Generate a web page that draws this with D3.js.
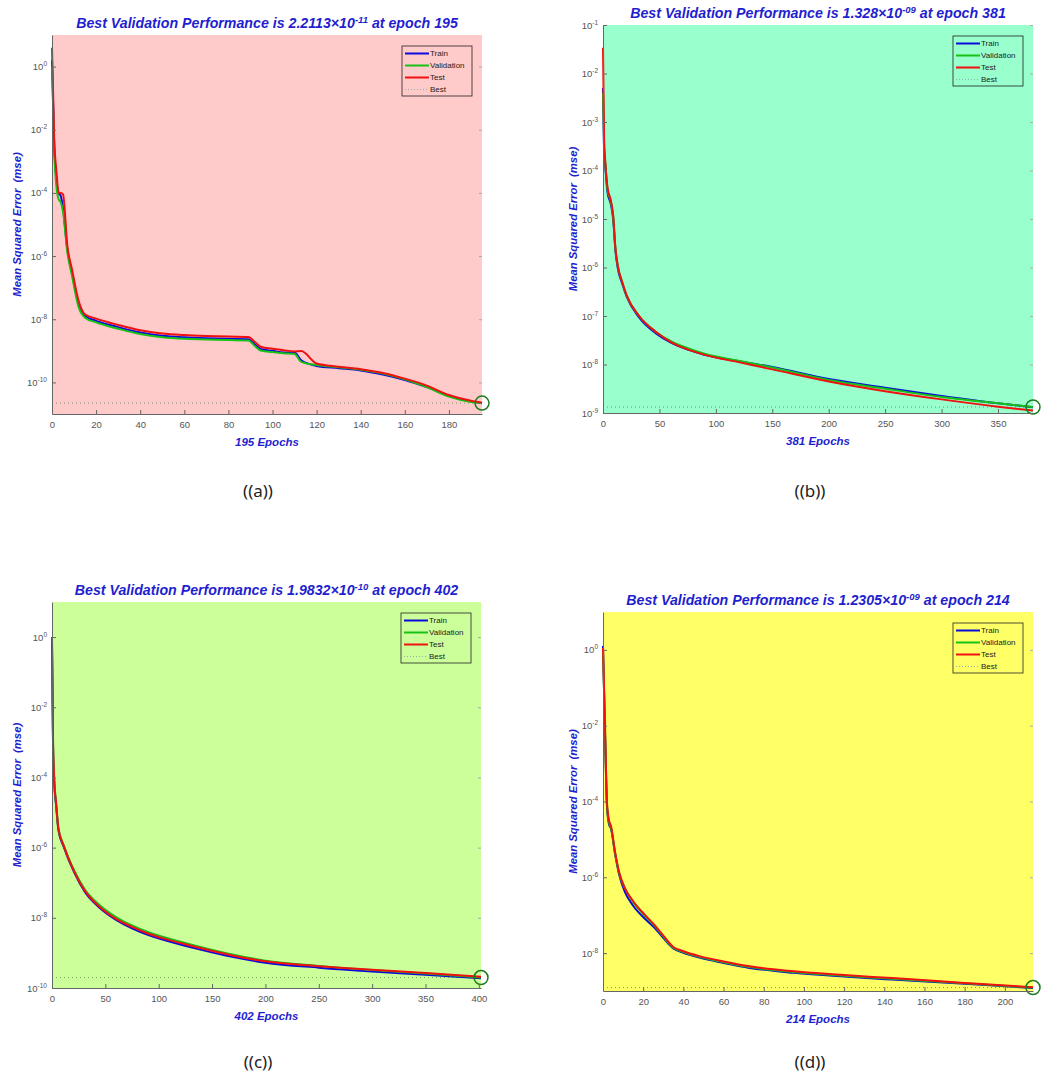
<!DOCTYPE html>
<html><head><meta charset="utf-8">
<script src="https://cdn.jsdelivr.net/npm/d3@7"></script>
<style>body{margin:0;background:#fff} svg{display:block}</style>
</head><body>
<svg id="chart" width="1041" height="1079"></svg>
<script>
// ---------- DATA (MSE per epoch) ----------
const seriesNames = ["Train", "Validation", "Test", "Best"];

// Panel (a)
const epochsA = [0,1,2,3,4,5,7,9,12,15,20,30,40,50,60,70,80,89,92,95,100,105,110,113,120,130,140,150,160,170,180,190,195];
const trainA = [1.585,3.16e-3,2.51e-4,1e-4,7.94e-5,3.16e-5,1.58e-6,3.16e-7,3.16e-8,1.26e-8,8.91e-9,5.62e-9,3.80e-9,3.02e-9,2.69e-9,2.51e-9,2.40e-9,2.34e-9,1.58e-9,1.12e-9,1e-9,8.91e-10,8.91e-10,5.01e-10,3.31e-10,2.82e-10,2.40e-10,1.78e-10,1.20e-10,7.08e-11,3.80e-11,2.51e-11,2.19e-11];
const valA = [1.0,2.51e-3,1.58e-4,6.31e-5,5.01e-5,2.51e-5,1.26e-6,2.51e-7,2.51e-8,1.12e-8,7.94e-9,5.01e-9,3.39e-9,2.69e-9,2.40e-9,2.29e-9,2.19e-9,2.14e-9,1.41e-9,1.0e-9,9.12e-10,8.32e-10,7.94e-10,4.47e-10,3.55e-10,3.02e-10,2.51e-10,1.91e-10,1.26e-10,7.08e-11,3.55e-11,2.40e-11,2.2113e-11];
const testA = [3.98,5.01e-3,5.01e-4,1e-4,1e-4,9e-5,2.0e-6,3.98e-7,3.98e-8,1.41e-8,1.05e-8,6.61e-9,4.47e-9,3.55e-9,3.16e-9,2.95e-9,2.82e-9,2.75e-9,1.91e-9,1.32e-9,1.17e-9,1.05e-9,9.6e-10,9.8e-10,3.98e-10,3.16e-10,2.63e-10,2.0e-10,1.32e-10,7.94e-11,3.98e-11,2.63e-11,2.29e-11];
const xTicksA = [0,20,40,60,80,100,120,140,160,180];
const yTicksA = [1e0,1e-2,1e-4,1e-6,1e-8,1e-10];
const yDomainA = [1e-11, 1e1];
const bestA = {value: 2.2113e-11, mantissa: "2.2113", exponent: "-11", epoch: 195, epochs: 195};

// Panel (b)
const epochsB = [0,1,2,4,7,9,11,13,17,21,32,47,61,76,90,120,150,200,250,300,350,381];
const trainB = [5.01e-3,2.51e-4,1.26e-4,3.55e-5,2.0e-5,1e-5,2.24e-6,1e-6,4.68e-7,2.51e-7,9.33e-8,4.37e-8,2.75e-8,2.0e-8,1.58e-8,1.17e-8,8.91e-9,5.01e-9,3.31e-9,2.24e-9,1.58e-9,1.32e-9];
const valB = [3.98e-3,3.16e-4,1.41e-4,3.98e-5,2.24e-5,1.12e-5,2.51e-6,1.12e-6,5.01e-7,2.63e-7,1e-7,4.68e-8,2.95e-8,2.14e-8,1.66e-8,1.20e-8,8.71e-9,4.79e-9,3.16e-9,2.14e-9,1.58e-9,1.328e-9];
const testB = [3.39e-2,3.98e-4,1.58e-4,4.47e-5,2.40e-5,1.20e-5,2.51e-6,1.12e-6,5.01e-7,2.63e-7,1e-7,4.68e-8,2.82e-8,2.0e-8,1.58e-8,1.12e-8,7.94e-9,4.47e-9,2.82e-9,1.91e-9,1.35e-9,1.12e-9];
const xTicksB = [0,50,100,150,200,250,300,350];
const yTicksB = [1e-1,1e-2,1e-3,1e-4,1e-5,1e-6,1e-7,1e-8,1e-9];
const yDomainB = [1e-9, 1e-1];
const bestB = {value: 1.328e-9, mantissa: "1.328", exponent: "-09", epoch: 381, epochs: 381};

// Panel (c)
const epochsC = [0,1,2,4,6,11,21,31,44,60,75,91,106,138,170,200,250,300,350,402];
const trainC = [0.631,6.31e-4,7.94e-5,1.41e-5,3.16e-6,1.05e-6,1.91e-7,5.37e-8,2.0e-8,8.71e-9,5.01e-9,3.16e-9,2.29e-9,1.26e-9,7.59e-10,5.25e-10,3.80e-10,2.95e-10,2.40e-10,1.91e-10];
const valC = [0.398,7.94e-4,1e-4,1.58e-5,3.55e-6,1.17e-6,2.19e-7,6.31e-8,2.40e-8,1.05e-8,6.03e-9,3.80e-9,2.75e-9,1.51e-9,8.91e-10,6.03e-10,4.27e-10,3.24e-10,2.57e-10,1.9832e-10];
const testC = [1.0,1e-3,1e-4,1.66e-5,3.55e-6,1.12e-6,2.0e-7,5.75e-8,2.14e-8,9.33e-9,5.50e-9,3.47e-9,2.51e-9,1.41e-9,8.32e-10,5.75e-10,4.17e-10,3.31e-10,2.69e-10,2.09e-10];
const xTicksC = [0,50,100,150,200,250,300,350,400];
const yTicksC = [1e0,1e-2,1e-4,1e-6,1e-8,1e-10];
const yDomainC = [1e-10, 1e1];
const bestC = {value: 1.9832e-10, mantissa: "1.9832", exponent: "-10", epoch: 402, epochs: 402};

// Panel (d)
const epochsD = [0,1,2,3,4,6,8,11,15,21,26,30,35,40,48,60,73,95,120,144,178,214];
const trainD = [1.26,6.31e-3,7.08e-5,2.51e-5,1.91e-5,4.17e-6,1.20e-6,3.98e-7,1.78e-7,7.94e-8,4.47e-8,2.51e-8,1.32e-8,1.02e-8,7.59e-9,5.50e-9,4.07e-9,3.02e-9,2.40e-9,2.0e-9,1.58e-9,1.20e-9];
const valD = [1.0,7.94e-3,7.94e-5,2.82e-5,2.0e-5,4.37e-6,1.29e-6,5.01e-7,2.24e-7,9.33e-8,5.01e-8,2.75e-8,1.38e-8,1.07e-8,7.94e-9,5.75e-9,4.27e-9,3.16e-9,2.51e-9,2.09e-9,1.62e-9,1.2305e-9];
const testD = [1.12,1e-2,8.91e-5,3.16e-5,2.24e-5,4.68e-6,1.38e-6,5.01e-7,2.34e-7,1e-7,5.25e-8,2.88e-8,1.45e-8,1.12e-8,8.32e-9,6.03e-9,4.47e-9,3.31e-9,2.63e-9,2.19e-9,1.66e-9,1.26e-9];
const xTicksD = [0,20,40,60,80,100,120,140,160,180,200];
const yTicksD = [1e0,1e-2,1e-4,1e-6,1e-8];
const yDomainD = [1e-9, 1e1];
const bestD = {value: 1.2305e-9, mantissa: "1.2305", exponent: "-09", epoch: 214, epochs: 214};

const captions = ["((a))", "((b))", "((c))", "((d))"];

// ---------- LAYOUT / STYLE ----------
const seriesColors = ["#0a0adc", "#16c216", "#f01010"];
const bestColor = "#2e6e2e";
const titleColor = "#1f1fcf";
const labelFont = "'Liberation Sans', Arial, sans-serif";

const panels = [
  {epochs: epochsA, series: [trainA, valA, testA], xTicks: xTicksA, yTicks: yTicksA, yDomain: yDomainA, best: bestA,
   caption: captions[0], bg: "#ffcaca", box: {l: 52, t: 35, r: 482, b: 414}, yLabelX: 17, capPos: [258, 497]},
  {epochs: epochsB, series: [trainB, valB, testB], xTicks: xTicksB, yTicks: yTicksB, yDomain: yDomainB, best: bestB,
   caption: captions[1], bg: "#99ffcc", box: {l: 603, t: 25, r: 1033, b: 413}, yLabelX: 573, capPos: [810, 497]},
  {epochs: epochsC, series: [trainC, valC, testC], xTicks: xTicksC, yTicks: yTicksC, yDomain: yDomainC, best: bestC,
   caption: captions[2], bg: "#ccff99", box: {l: 52, t: 602, r: 481, b: 988}, yLabelX: 17, capPos: [258, 1068]},
  {epochs: epochsD, series: [trainD, valD, testD], xTicks: xTicksD, yTicks: yTicksD, yDomain: yDomainD, best: bestD,
   caption: captions[3], bg: "#ffff66", box: {l: 603, t: 612, r: 1033, b: 991}, yLabelX: 573, capPos: [810, 1068]}
];

const svg = d3.select("#chart");

panels.forEach(p => {
  const {l, t, r, b} = p.box;
  const x = d3.scaleLinear().domain([0, p.best.epochs]).range([l, r]);
  const y = d3.scaleLog().domain(p.yDomain).range([b, t]);
  const g = svg.append("g");

  // background
  g.append("rect").attr("x", l).attr("y", t).attr("width", r - l).attr("height", b - t).attr("fill", p.bg);

  // best dotted line
  g.append("line")
    .attr("x1", l).attr("x2", r)
    .attr("y1", y(p.best.value)).attr("y2", y(p.best.value))
    .attr("stroke", bestColor).attr("stroke-width", 1).attr("stroke-dasharray", "1,3").attr("opacity", 0.6);

  // series lines
  const line = d3.line().x(d => x(d[0])).y(d => y(d[1])).curve(d3.curveMonotoneX);
  p.series.forEach((s, i) => {
    const pts = p.epochs.map((e, k) => [e, s[k]]);
    g.append("path").datum(pts).attr("d", line)
      .attr("fill", "none").attr("stroke", seriesColors[i]).attr("stroke-width", 2)
      .attr("stroke-linejoin", "round");
  });

  // best circle
  g.append("circle").attr("cx", x(p.best.epoch)).attr("cy", y(p.best.value)).attr("r", 7)
    .attr("fill", "none").attr("stroke", "#1d7a1d").attr("stroke-width", 1.5);

  // right faint ticks
  g.append("g").attr("transform", `translate(${r},0)`)
    .call(d3.axisRight(y).tickValues(p.yTicks).tickSize(-3).tickSizeOuter(0).tickFormat(() => ""))
    .call(a => a.select(".domain").remove())
    .call(a => a.selectAll("line").attr("stroke", "#aaa"));

  // left axis
  const ya = g.append("g").attr("transform", `translate(${l},0)`)
    .call(d3.axisLeft(y).tickValues(p.yTicks).tickSize(-4).tickSizeOuter(0).tickPadding(5).tickFormat(() => ""));
  ya.select(".domain").attr("stroke", "#666");
  ya.selectAll("line").attr("stroke", "#666");
  ya.selectAll(".tick text").each(function(d) {
    const txt = d3.select(this).attr("fill", "#555").attr("font-size", 9.5).attr("font-family", labelFont);
    const ex = Math.round(Math.log10(d));
    txt.append("tspan").text("10");
    txt.append("tspan").attr("dy", -4).attr("font-size", 6.5).text(ex);
  });

  // bottom axis
  const xa = g.append("g").attr("transform", `translate(0,${b})`)
    .call(d3.axisBottom(x).tickValues(p.xTicks).tickSize(-4).tickSizeOuter(0).tickPadding(7));
  xa.select(".domain").attr("stroke", "#666");
  xa.selectAll("line").attr("stroke", "#666");
  xa.selectAll("text").attr("fill", "#555").attr("font-size", 9.5).attr("font-family", labelFont);

  // title
  const title = g.append("text").attr("x", (l + r) / 2).attr("y", t - 7)
    .attr("text-anchor", "middle").attr("font-family", labelFont).attr("font-weight", "bold")
    .attr("font-style", "italic").attr("font-size", 14.2).attr("fill", titleColor);
  title.append("tspan").text(`Best Validation Performance is ${p.best.mantissa}\u00d710`);
  title.append("tspan").attr("dy", -5.5).attr("font-size", 9.5).text(p.best.exponent);
  title.append("tspan").attr("dy", 5.5).text(` at epoch ${p.best.epoch}`);

  // x label
  g.append("text").attr("x", (l + r) / 2).attr("y", b + 32).attr("text-anchor", "middle")
    .attr("font-family", labelFont).attr("font-weight", "bold").attr("font-style", "italic")
    .attr("font-size", 11.5).attr("fill", titleColor).text(`${p.best.epochs} Epochs`);

  // y label
  g.append("text").attr("transform", `translate(${p.yLabelX},${(t + b) / 2}) rotate(-90)`)
    .attr("text-anchor", "middle").attr("dy", "0.35em")
    .attr("font-family", labelFont).attr("font-weight", "bold").attr("font-style", "italic")
    .attr("font-size", 11.3).attr("fill", titleColor).attr("xml:space", "preserve")
    .text("Mean Squared Error  (mse)");

  // legend
  const lw = 70, lh = 50;
  const lx = r - 10 - lw, ly = t + 11;
  const lg = g.append("g").attr("transform", `translate(${lx},${ly})`);
  lg.append("rect").attr("width", lw).attr("height", lh).attr("fill", "none").attr("stroke", "#222").attr("stroke-width", 0.8);
  seriesNames.forEach((name, i) => {
    const yy = 7.5 + i * 12;
    const ln = lg.append("line").attr("x1", 3).attr("x2", 27).attr("y1", yy).attr("y2", yy);
    if (i < 3) ln.attr("stroke", seriesColors[i]).attr("stroke-width", 2);
    else ln.attr("stroke", "#8fb0b0").attr("stroke-width", 1).attr("stroke-dasharray", "1,2");
    lg.append("text").attr("x", 28).attr("y", yy).attr("dy", "0.35em")
      .attr("font-family", labelFont).attr("font-size", 8).attr("fill", "#222").text(name);
  });

  // caption
  svg.append("text").attr("x", p.capPos[0]).attr("y", p.capPos[1]).attr("text-anchor", "middle")
    .attr("font-family", "'Noto Sans', sans-serif").attr("font-size", 17).attr("fill", "#222")
    .text(p.caption);
});
</script>
</body></html>
